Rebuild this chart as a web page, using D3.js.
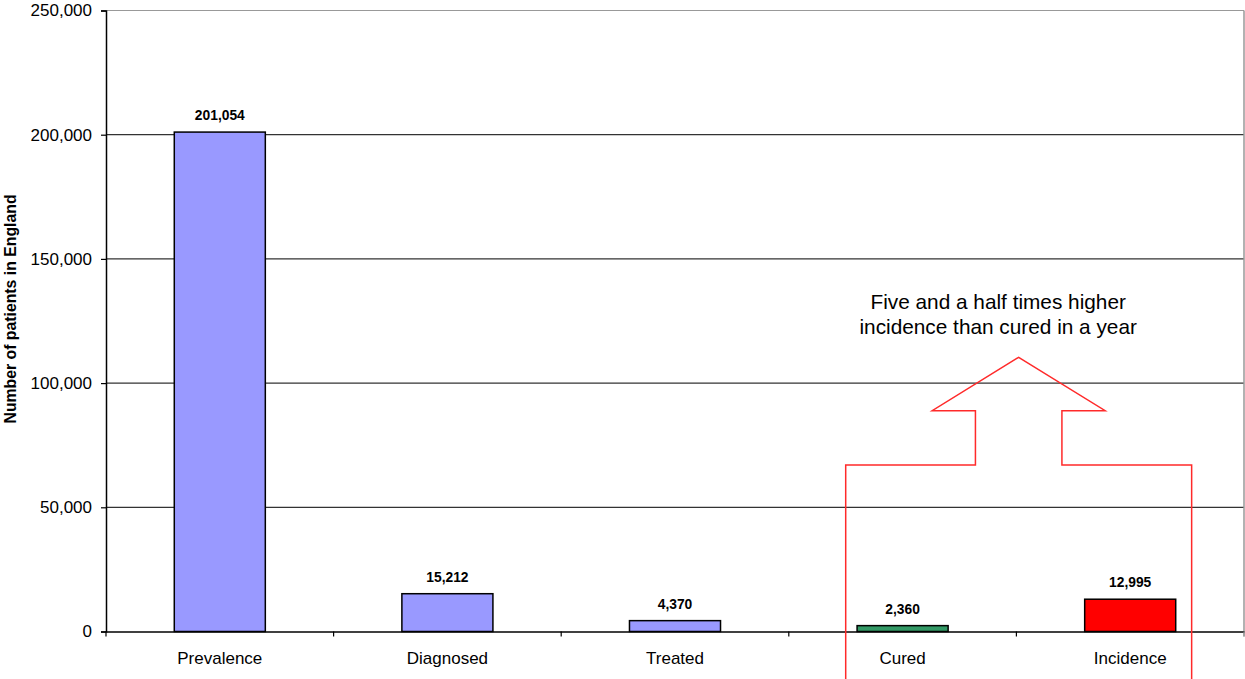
<!DOCTYPE html>
<html>
<head>
<meta charset="utf-8">
<script src="https://cdn.jsdelivr.net/npm/d3@7"></script>
<style>
    body { margin: 0; background: #fff; }
    svg { display: block; font-family: "Liberation Sans", Arial, sans-serif; }
</style>
</head>
<body>
<div id="chart"></div>
<script>
// Data
const categories = ["Prevalence", "Diagnosed", "Treated", "Cured", "Incidence"];
const patients = [201054, 15212, 4370, 2360, 12995];
const barColors = ["#9999ff", "#9999ff", "#9999ff", "#339966", "#ff0000"];
const yTicks = [0, 50000, 100000, 150000, 200000, 250000];

// Arrow annotation, x in category units (0..5), y in patients
const arrowX = [3.25, 3.25, 3.82, 3.82, 3.63, 4.01, 4.39, 4.20, 4.20, 4.77, 4.77];
const arrowY = [-20000, 67000, 67000, 88900, 88900, 110400, 88900, 88900, 67000, 67000, -20000];
const noteLines = ["Five and a half times higher", "incidence than cured in a year"];
const noteAt = { x: 3.92, y: 130000 };

const viewW = 1245;
const viewH = 679;
const margin = { top: 10.5, right: 1, bottom: 47.5, left: 106 };
const width = viewW - margin.left - margin.right;
const height = viewH - margin.top - margin.bottom;

const root = d3.select("#chart")
    .append("svg")
    .attr("width", viewW)
    .attr("height", viewH);

const svg = root.append("g")
    .attr("transform", `translate(${margin.left},${margin.top})`);

// Scales
const x = d3.scaleBand().domain(categories).range([0, width]).padding(0);
const xi = d3.scaleLinear().domain([0, 5]).range([0, width]);
const y = d3.scaleLinear().domain([0, 250000]).range([height, 0]);
const fmt = d3.format(",");

// Gridlines
svg.append("g")
    .selectAll("line")
    .data(yTicks.filter(d => d > 0))
    .join("line")
    .attr("x1", 0)
    .attr("x2", width)
    .attr("y1", d => y(d))
    .attr("y2", d => y(d))
    .attr("stroke", d => d === 250000 ? "#999" : "#333")
    .attr("stroke-width", 1.2);

// Right border of plot area
svg.append("line")
    .attr("x1", width).attr("x2", width)
    .attr("y1", 0).attr("y2", height + 5)
    .attr("stroke", "#999")
    .attr("stroke-width", 1.5);

// Bars
const bw = x.bandwidth() * 0.4;
svg.selectAll("rect.bar")
    .data(categories)
    .join("rect")
    .attr("class", "bar")
    .attr("x", d => x(d) + (x.bandwidth() - bw) / 2)
    .attr("y", (d, i) => y(patients[i]))
    .attr("width", bw)
    .attr("height", (d, i) => height - y(patients[i]))
    .attr("fill", (d, i) => barColors[i])
    .attr("stroke", "#000")
    .attr("stroke-width", 1.5);

// Value labels
svg.selectAll("text.val")
    .data(categories)
    .join("text")
    .attr("class", "val")
    .attr("x", d => x(d) + x.bandwidth() / 2)
    .attr("y", (d, i) => y(patients[i]) - 12)
    .attr("text-anchor", "middle")
    .style("font-size", "13.8px")
    .style("font-weight", "bold")
    .text((d, i) => fmt(patients[i]));

// Y Axis
const yAxis = svg.append("g")
    .call(d3.axisLeft(y).tickValues(yTicks).tickFormat(fmt).tickSize(5).tickPadding(9));
yAxis.select(".domain").attr("stroke", "#000").attr("stroke-width", 1.5);
yAxis.selectAll(".tick line").attr("stroke", "#000").attr("stroke-width", 1.2);
yAxis.selectAll("text").style("font-size", "17px").attr("fill", "#000");

// X Axis
const xAxis = svg.append("g")
    .attr("transform", `translate(0, ${height})`)
    .call(d3.axisBottom(x).tickSize(0).tickPadding(20));
xAxis.select(".domain").attr("stroke", "#000").attr("stroke-width", 1.5);
xAxis.selectAll("text").style("font-size", "17px").attr("fill", "#000");

// tick marks between categories
svg.append("g")
    .selectAll("line")
    .data(d3.range(0, 6))
    .join("line")
    .attr("x1", d => xi(d)).attr("x2", d => xi(d))
    .attr("y1", height).attr("y2", height + 5)
    .attr("stroke", d => d === 5 ? "#999" : "#000")
    .attr("stroke-width", 1.2);

// Y Axis label
svg.append("text")
    .attr("transform", "rotate(-90)")
    .attr("x", -(height / 2) + 12)
    .attr("y", -margin.left + 16)
    .attr("text-anchor", "middle")
    .style("font-size", "15.8px")
    .style("font-weight", "bold")
    .text("Number of patients in England");

// Arrow annotation
const arrowLine = d3.line()
    .x(d => xi(d[0]))
    .y(d => y(d[1]));
svg.append("path")
    .datum(arrowX.map((v, i) => [v, arrowY[i]]))
    .attr("d", arrowLine)
    .attr("fill", "none")
    .attr("stroke", "#ff2a2a")
    .attr("stroke-width", 1.5);

svg.append("text")
    .attr("x", xi(noteAt.x))
    .attr("y", y(noteAt.y))
    .attr("text-anchor", "middle")
    .style("font-size", "20.8px")
    .selectAll("tspan")
    .data(noteLines)
    .join("tspan")
    .attr("x", xi(noteAt.x))
    .attr("dy", (d, i) => i === 0 ? 0 : 25)
    .text(d => d);
</script>
</body>
</html>
